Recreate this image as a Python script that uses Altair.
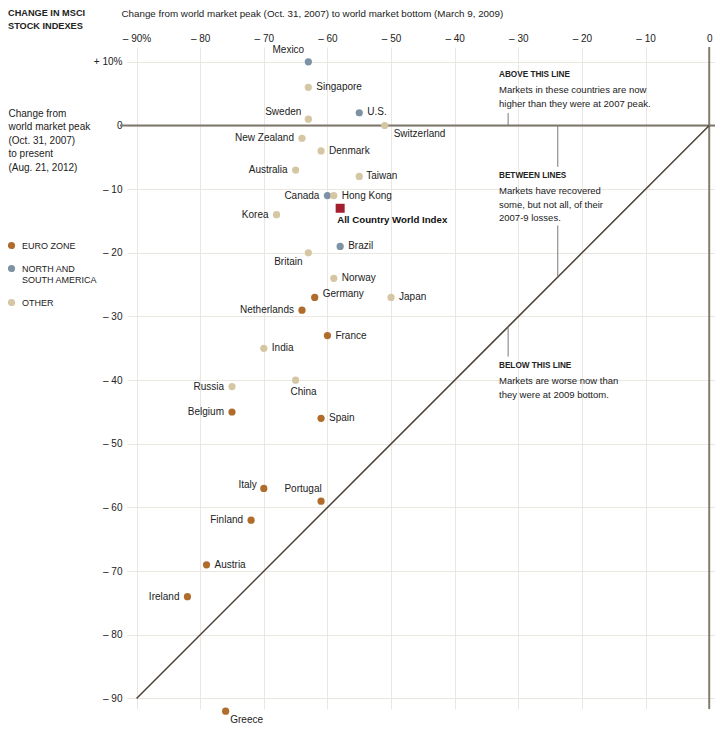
import altair as alt
import pandas as pd

FONT = "Liberation Sans"

# ---- data ----
countries = ["Mexico", "Singapore", "Sweden", "U.S.", "Switzerland", "New Zealand",
             "Denmark", "Australia", "Taiwan", "Canada", "Hong Kong", "Korea", "Brazil",
             "Britain", "Norway", "Germany", "Japan", "Netherlands", "France", "India",
             "Russia", "China", "Belgium", "Spain", "Italy", "Portugal", "Finland",
             "Austria", "Ireland", "Greece"]
peak_to_bottom = [-63, -63, -63, -55, -51, -64, -61, -65, -55, -60, -59, -68, -58,
                  -63, -59, -62, -50, -64, -60, -70, -75, -65, -75, -61, -70, -61,
                  -72, -79, -82, -76]
peak_to_present = [10, 6, 1, 2, 0, -2, -4, -7, -8, -11, -11, -14, -19, -20, -24, -27,
                   -27, -29, -33, -35, -41, -40, -45, -46, -57, -59, -62, -69, -74, -92]
E, A, O = "EURO ZONE", "NORTH AND SOUTH AMERICA", "OTHER"
region = [A, O, O, A, O, O, O, O, O, A, O, O, A, O, O, E, O, E, E, O, O, O, E, E,
          E, E, E, E, E, E]
index_name = ["All Country World Index"]
index_bottom = [-58]
index_present = [-13]

regions = [E, A, O]
region_colors = ["#b06c2b", "#7d93a4", "#d6c7a4"]
x_ticks = [-90, -80, -70, -60, -50, -40, -30, -20, -10, 0]
y_ticks = [10, 0, -10, -20, -30, -40, -50, -60, -70, -80, -90]

# label placement (style): name -> (align, dx, dy)
label_style = {
    "Mexico": ("center", -20, -12), "Singapore": ("left", 8, 0),
    "Sweden": ("right", -7, -7), "U.S.": ("left", 8, -1),
    "Switzerland": ("left", 9, 8), "New Zealand": ("right", -8, 0),
    "Denmark": ("left", 8, 0), "Australia": ("right", -8, 0),
    "Taiwan": ("left", 7, 0), "Canada": ("right", -8, 0),
    "Hong Kong": ("left", 8, 0), "Korea": ("right", -8, 0),
    "Brazil": ("left", 8, 0), "Britain": ("center", -20, 9),
    "Norway": ("left", 8, 0), "Germany": ("left", 8, -3),
    "Japan": ("left", 8, 0), "Netherlands": ("right", -8, 0),
    "France": ("left", 8, 0), "India": ("left", 8, 0),
    "Russia": ("right", -8, 0), "China": ("center", 8, 12),
    "Belgium": ("right", -8, 0), "Spain": ("left", 8, 0),
    "Italy": ("right", -7, -3), "Portugal": ("center", -18, -12),
    "Finland": ("right", -8, 0), "Austria": ("left", 8, 0),
    "Ireland": ("right", -8, 0), "Greece": ("center", 21, 9),
}

df = pd.DataFrame({"country": countries, "bottom": peak_to_bottom,
                   "present": peak_to_present, "region": region})
idx = pd.DataFrame({"country": index_name, "bottom": index_bottom,
                    "present": index_present})
one = pd.DataFrame({"a": [0]})

W, H = 588, 662
TXT = "#222222"

x_enc = alt.X("bottom:Q",
              scale=alt.Scale(domain=[-91.5, 0.91], nice=False, zero=False),
              axis=alt.Axis(orient="top", values=x_ticks, domain=False, ticks=False,
                            grid=True, labelPadding=4, labelFontSize=10,
                            labelFont=FONT, labelColor=TXT,
                            labelExpr="datum.value == -90 ? '\u2013 90%' : datum.value == 0 ? '0' : '\u2013 ' + abs(datum.value)",
                            title="Change from world market peak (Oct. 31, 2007) to world market bottom (March 9, 2009)",
                            titleX=-6, titleY=-34, titleAlign="left", titleBaseline="middle",
                            titleAngle=0, titleFontSize=9.8, titleFontWeight="normal",
                            titleFont=FONT, titleColor=TXT))
y_enc = alt.Y("present:Q",
              scale=alt.Scale(domain=[-91.65, 12.33], nice=False, zero=False),
              axis=alt.Axis(orient="left", values=y_ticks, domain=False, ticks=False,
                            grid=True, labelPadding=5, labelFontSize=10,
                            labelFont=FONT, labelColor=TXT,
                            labelExpr="datum.value == 10 ? '+ 10%' : datum.value == 0 ? '0' : '\u2013 ' + abs(datum.value)",
                            title=["Change from", "world market peak", "(Oct. 31, 2007)",
                                   "to present", "(Aug. 21, 2012)"],
                            titleX=-119, titleY=61, titleAlign="left", titleBaseline="top",
                            titleAngle=0, titleFontSize=10, titleFontWeight="normal",
                            titleFont=FONT, titleColor=TXT, titleLineHeight=13.5))

points = alt.Chart(df).mark_circle(size=52, opacity=1).encode(
    x=x_enc, y=y_enc,
    color=alt.Color("region:N", scale=alt.Scale(domain=regions, range=region_colors),
                    legend=alt.Legend(title=None, orient="none", legendX=-120, legendY=194,
                                      symbolType="circle", symbolSize=52,
                                      symbolStrokeWidth=0, symbolOpacity=1,
                                      labelFontSize=9, labelFont=FONT, labelColor=TXT,
                                      labelLimit=200, labelOffset=6, rowPadding=13,
                                      labelExpr="datum.label == 'NORTH AND SOUTH AMERICA' ? ['NORTH AND', 'SOUTH AMERICA'] : datum.label")),
)

GRID = "#e9e7e0"

zero_line = alt.Chart(one).mark_rule(color="#7f776c", strokeWidth=2).encode(
    y=alt.datum(0), x=alt.value(-7), x2=alt.value(W))
vert_line = alt.Chart(one).mark_rule(color="#857c71", strokeWidth=2).encode(
    x=alt.datum(0), y=alt.value(0), y2=alt.value(H))
diag = alt.Chart(one).mark_rule(color="#4b4036", strokeWidth=1.5).encode(
    x=alt.datum(-90), y=alt.datum(-90), x2=alt.datum(0), y2=alt.datum(0))

LEAD = "#7a7a7a"
lead1 = alt.Chart(one).mark_rule(color=LEAD, strokeWidth=1).encode(
    x=alt.datum(-31.6), y=alt.datum(1.96), y2=alt.datum(0))
lead2 = alt.Chart(one).mark_rule(color=LEAD, strokeWidth=1).encode(
    x=alt.datum(-23.8), y=alt.datum(0), y2=alt.datum(-6.5))
lead3 = alt.Chart(one).mark_rule(color=LEAD, strokeWidth=1).encode(
    x=alt.datum(-23.8), y=alt.datum(-15.7), y2=alt.datum(-23.8))
lead4 = alt.Chart(one).mark_rule(color=LEAD, strokeWidth=1).encode(
    x=alt.datum(-31.6), y=alt.datum(-31.6), y2=alt.datum(-36.3))

square = alt.Chart(idx).mark_square(size=81, opacity=1, color="#a31f2f").encode(
    x="bottom:Q", y="present:Q")
square_label = alt.Chart(idx).mark_text(align="left", baseline="middle", dx=-3, dy=12,
                                        fontSize=9.7, fontWeight="bold", font=FONT,
                                        color="#111").encode(
    x="bottom:Q", y="present:Q", text="country:N")

# point labels, grouped by placement style
groups = {}
for name, st in label_style.items():
    groups.setdefault(st, []).append(name)
label_layers = []
for (align, dx, dy), names in groups.items():
    label_layers.append(
        alt.Chart(df).transform_filter(alt.FieldOneOfPredicate(field="country", oneOf=names))
        .mark_text(align=align, baseline="middle", dx=dx, dy=dy, fontSize=10,
                   font=FONT, color=TXT)
        .encode(x="bottom:Q", y="present:Q", text="country:N"))


def note(lines, x, y, size, weight="normal", lh=13.5):
    return alt.Chart(one).mark_text(text=lines, align="left", baseline="middle",
                                    fontSize=size, fontWeight=weight, font=FONT,
                                    color=TXT, lineHeight=lh).encode(
        x=alt.value(x), y=alt.value(y))


notes = [
    note(["CHANGE IN MSCI", "STOCK INDEXES"], -119, -34, 9.2, "bold", 13),
    note(["ABOVE THIS LINE"], 372, 28, 8.2, "bold"),
    note(["Markets in these countries are now", "higher than they were at 2007 peak."], 372, 43, 9.5, lh=14),
    note(["BETWEEN LINES"], 372, 129, 8.2, "bold"),
    note(["Markets have recovered", "some, but not all, of their", "2007-9 losses."], 372, 144, 9.5, lh=13.5),
    note(["BELOW THIS LINE"], 372, 319, 8.2, "bold"),
    note(["Markets are worse now than", "they were at 2009 bottom."], 372, 334, 9.5, lh=13.5),
]

chart = alt.layer(
    zero_line, vert_line, diag, lead1, lead2, lead3, lead4,
    points, square, *label_layers, square_label, *notes
).properties(
    width=W, height=H,
    autosize=alt.AutoSizeParams(type="none"),
    padding={"left": 119, "top": 39, "right": 0, "bottom": 22},
).configure_view(stroke=None).configure_axis(gridColor=GRID, gridWidth=1)

chart.save("out.html", embed_options={"renderer": "svg", "actions": False})
